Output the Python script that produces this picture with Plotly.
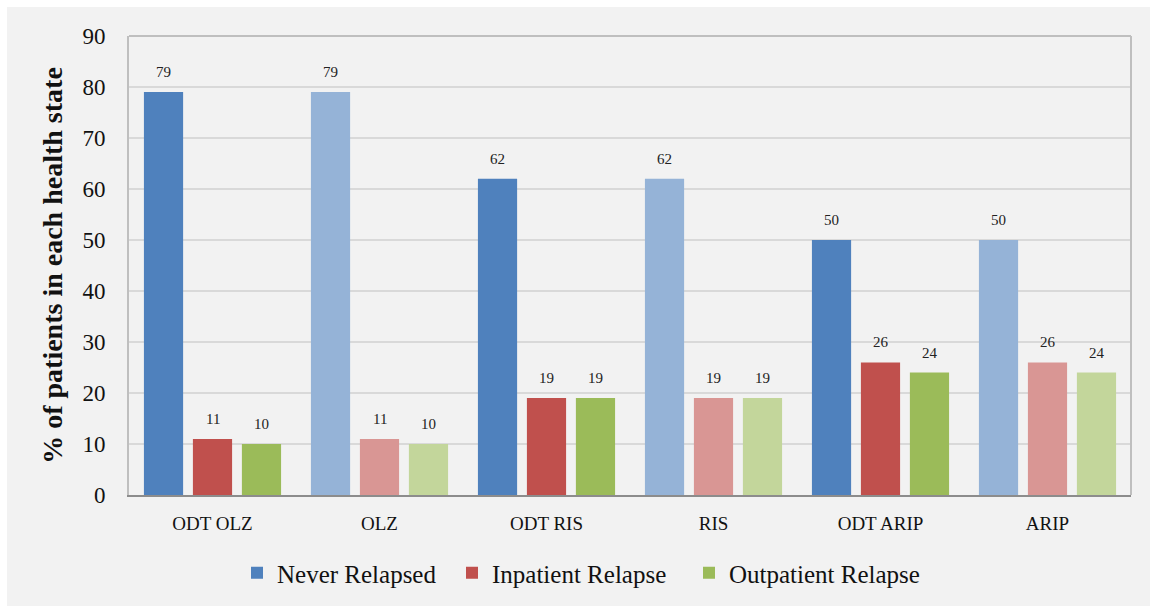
import plotly.graph_objects as go

# Treatment arms and health-state shares (%)
categories = ["ODT OLZ", "OLZ", "ODT RIS", "RIS", "ODT ARIP", "ARIP"]
never_relapsed = [79, 79, 62, 62, 50, 50]
inpatient_relapse = [11, 11, 19, 19, 26, 26]
outpatient_relapse = [10, 10, 19, 19, 24, 24]
y_ticks = [0, 10, 20, 30, 40, 50, 60, 70, 80, 90]

# ODT arms use the saturated shade, standard formulations a lighter tint
is_odt = [c.startswith("ODT") for c in categories]
series = [
    ("Never Relapsed", never_relapsed, "#4F81BD", "#95B3D7"),
    ("Inpatient Relapse", inpatient_relapse, "#C0504D", "#D99694"),
    ("Outpatient Relapse", outpatient_relapse, "#9BBB59", "#C3D69B"),
]

FONT = '"Liberation Serif", "DejaVu Serif", serif'
PLOT_W, PLOT_H = 1002, 459
LEFT = 129

# one legend box per series so the entries sit at fixed positions
legend_ids = ["legend", "legend2", "legend3"]
legend_px = [237, 452, 689]

fig = go.Figure()
for (name, vals, dark, light), lid in zip(series, legend_ids):
    fig.add_trace(go.Bar(
        name=name,
        x=categories,
        y=vals,
        marker=dict(color=[dark if o else light for o in is_odt], line=dict(width=0)),
        textposition="none",
        legend=lid,
    ))

# Value labels above each bar
offsets = [-1, 0, 1]
for k, (name, vals, dark, light) in enumerate(series):
    for i, v in enumerate(vals):
        fig.add_annotation(
            x=i, y=v, xref="x", yref="y",
            text=str(v), showarrow=False,
            xshift=offsets[k] * 49.1, yshift=20,
            font=dict(family=FONT, size=15, color="#222222"),
        )

# Grey chart background
fig.add_shape(type="rect", xref="paper", yref="paper",
              x0=-122 / PLOT_W, x1=1021 / PLOT_W, y0=-111 / PLOT_H, y1=1 + 29 / PLOT_H,
              fillcolor="#F2F2F2", line=dict(width=0), layer="below")

legend_style = dict(
    orientation="h", xanchor="left", y=-78 / PLOT_H, yanchor="middle",
    font=dict(family=FONT, size=25, color="#111111"),
    bgcolor="rgba(0,0,0,0)", itemwidth=30,
)
layout_legends = {
    lid: dict(legend_style, x=(px - LEFT) / PLOT_W)
    for lid, px in zip(legend_ids, legend_px)
}

fig.update_layout(
    width=1150, height=606,
    margin=dict(l=LEFT, r=19, t=36, b=111, autoexpand=False),
    paper_bgcolor="white",
    plot_bgcolor="white",
    barmode="group",
    bargap=0.12,
    bargroupgap=0.2,
    font=dict(family=FONT, color="#111111"),
    showlegend=True,
    xaxis=dict(
        type="category", showgrid=False,
        tickfont=dict(family=FONT, size=19, color="#111111"),
        showline=True, linecolor="#8C8C8C", linewidth=2,
        ticks="", ticklabelstandoff=10,
    ),
    yaxis=dict(
        range=[0, 90], tickvals=y_ticks,
        tickfont=dict(family=FONT, size=23, color="#111111"),
        showgrid=True, gridcolor="#D9D9D9", gridwidth=2,
        showline=True, linecolor="#BFBFBF", linewidth=2,
        zeroline=False, ticks="", ticklabelstandoff=17,
        title=dict(text="<b>% of patients in each health state</b>",
                   font=dict(family=FONT, size=28, color="#111111"), standoff=12),
    ),
    **layout_legends,
)

# Light frame on top and right of the plotting area
fig.add_shape(type="line", xref="paper", yref="paper", x0=0, x1=1, y0=1, y1=1,
              line=dict(color="#BFBFBF", width=2))
fig.add_shape(type="line", xref="paper", yref="paper", x0=1, x1=1, y0=0, y1=1,
              line=dict(color="#BFBFBF", width=2))

fig.write_html("out.html")
